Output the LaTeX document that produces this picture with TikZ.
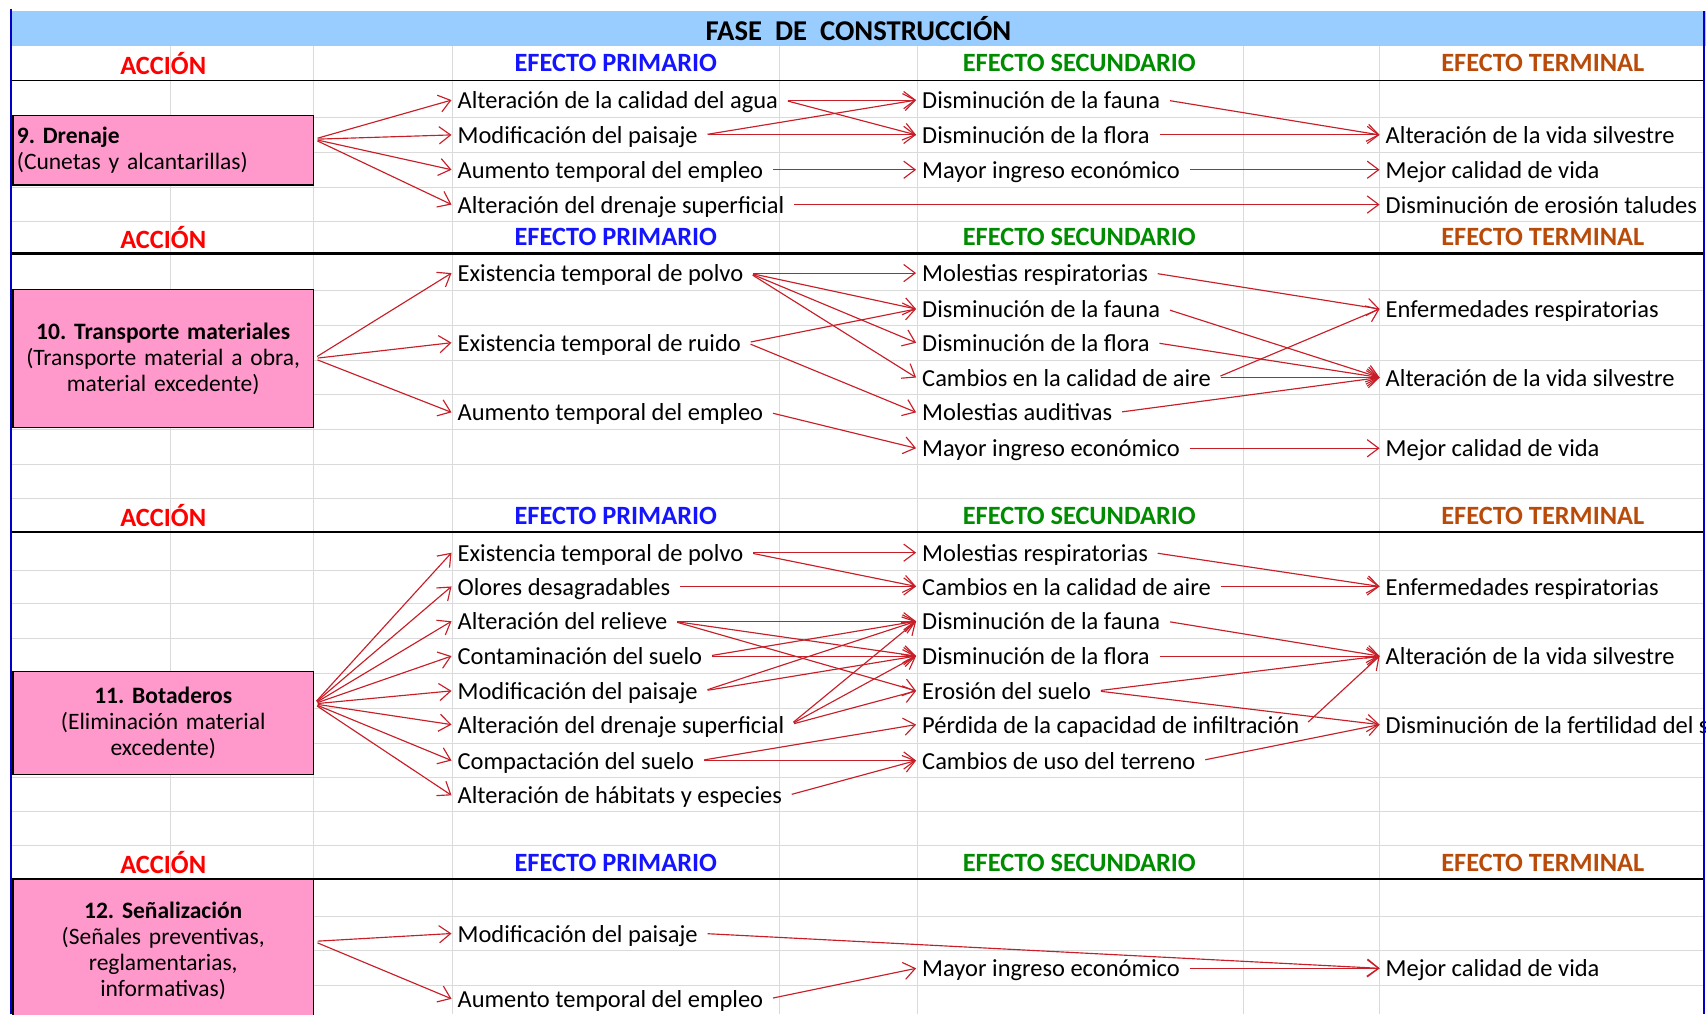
\documentclass[tikz,border=0pt]{standalone}
\usepackage{fontspec}
\setmainfont{Carlito}
\usetikzlibrary{arrows.meta,calc}
\frenchspacing

\definecolor{bandblue}{RGB}{153,204,255}
\definecolor{boxpink}{RGB}{255,153,204}
\definecolor{arrred}{RGB}{200,30,40}
\definecolor{gridgray}{RGB}{218,218,218}
\definecolor{hdrred}{RGB}{255,0,0}
\definecolor{hdrblue}{RGB}{20,20,255}
\definecolor{hdrgreen}{RGB}{0,140,0}
\definecolor{hdrbrown}{RGB}{185,75,10}
\definecolor{edgeblue}{RGB}{0,0,200}

\tikzset{
  efecto/.style={anchor=west, inner xsep=3pt, inner ysep=0pt, text height=11pt, text depth=2pt, font=\fontsize{12.8}{14}\selectfont},
  accion/.style={draw=black, line width=0.6pt, fill=boxpink, inner xsep=2pt, text width=5.38cm, align=center, font=\fontsize{12.3}{13.6}\selectfont},
  flecha/.style={draw=arrred, line width=0.6pt, -{Straight Barb[length=6pt,width=9pt]}, shorten <=2pt},
  cabecera/.style={font=\fontsize{13.8}{16}\selectfont\bfseries},
}

\def\cabeceras(#1)#2{%
  \node[cabecera, text=hdrred] (acc#2) at (150,#1) {ACCIÓN};
  \node[cabecera, text=hdrblue] (pri#2) at (566,#1) {EFECTO PRIMARIO};
  \node[cabecera, text=hdrgreen] (sec#2) at (992,#1) {EFECTO SECUNDARIO};
  \node[cabecera, text=hdrbrown] (ter#2) at (1418,#1) {EFECTO TERMINAL};
}

\begin{document}
\begin{tikzpicture}[x=0.02cm, y=-0.02cm]
			%%%%% START %%%%%
			\useasboundingbox (0,0) rectangle (1568,932);
			\clip (0,0) rectangle (1568,932);
			
			% grid of the sheet
			\draw[gridgray, line width=0.5pt] (157,42) -- (157,932) (288,42) -- (288,932) (416,42) -- (416,932)
			  (716,42) -- (716,932) (843,42) -- (843,932) (1143,42) -- (1143,932) (1268,42) -- (1268,932);
			\draw[gridgray, line width=0.5pt] (10,108) -- (1566,108) (10,140) -- (1566,140) (10,172) -- (1566,172) (10,204) -- (1566,204)
			  (10,267) -- (1566,267) (10,299) -- (1566,299) (10,331) -- (1566,331) (10,363) -- (1566,363)
			  (10,395) -- (1566,395) (10,427) -- (1566,427) (10,458) -- (1566,458);
			\draw[gridgray, line width=0.5pt] (10,524) -- (1566,524) (10,555) -- (1566,555) (10,587) -- (1566,587) (10,619) -- (1566,619)
			  (10,651) -- (1566,651) (10,683) -- (1566,683) (10,715) -- (1566,715) (10,746) -- (1566,746)
			  (10,777) -- (1566,777) (10,842) -- (1566,842) (10,874) -- (1566,874) (10,906) -- (1566,906);
			
			\fill[bandblue] (10,10) rectangle (1568,42);
			\node[font=\fontsize{15}{18}\selectfont\bfseries] (fase) at (789,26) {FASE~~DE~~CONSTRUCCIÓN};
			
			\draw[line width=0.9pt] (10,74) -- (1566,74);
			\draw[line width=1.6pt] (10,233) -- (1566,233);
			\draw[line width=0.9pt] (10,489) -- (1566,489);
			\draw[line width=0.9pt] (10,808) -- (1566,808);
			
			\cabeceras(58){9}
			\cabeceras(218){10}
			\cabeceras(474){11}
			\cabeceras(793){12}
			
			%%%%% 9. Drenaje %%%%%
			\node[accion, align=left, minimum height=1.28cm] (b9) at (150,138) {\textbf{9. Drenaje}\\(Cunetas y alcantarillas)};
			
			\node[efecto] (p9agua) at (415,92) {Alteración de la calidad del agua};
			\node[efecto] (p9paisaje) at (415,124) {Modificación del paisaje};
			\node[efecto] (p9empleo) at (415,156) {Aumento temporal del empleo};
			\node[efecto] (p9drenaje) at (415,188) {Alteración del drenaje superficial};
			
			\node[efecto] (s9fauna) at (842,92) {Disminución de la fauna};
			\node[efecto] (s9flora) at (842,124) {Disminución de la flora};
			\node[efecto] (s9ingreso) at (842,156) {Mayor ingreso económico};
			
			\node[efecto] (t9vida) at (1268,124) {Alteración de la vida silvestre};
			\node[efecto] (t9calidad) at (1268,156) {Mejor calidad de vida};
			\node[efecto] (t9taludes) at (1268,188) {Disminución de erosión taludes};
			
			\draw[flecha] ([yshift=5.7pt]b9.east) -- (p9agua.west);
			\draw[flecha] ([yshift=5.7pt]b9.east) -- (p9paisaje.west);
			\draw[flecha] ([yshift=5.7pt]b9.east) -- (p9empleo.west);
			\draw[flecha] ([yshift=5.7pt]b9.east) -- (p9drenaje.west);
			\draw[flecha] (p9agua.east) -- (s9fauna.west);
			\draw[flecha] (p9agua.east) -- (s9flora.west);
			\draw[flecha] (p9paisaje.east) -- (s9fauna.west);
			\draw[flecha] (p9paisaje.east) -- (s9flora.west);
			\draw[flecha] (p9empleo.east) -- (s9ingreso.west);
			\draw[flecha] (p9drenaje.east) -- (t9taludes.west);
			\draw[flecha] (s9fauna.east) -- (t9vida.west);
			\draw[flecha] (s9flora.east) -- (t9vida.west);
			\draw[flecha] (s9ingreso.east) -- (t9calidad.west);
			
			%%%%% 10. Transporte materiales %%%%%
			\node[accion, minimum height=2.54cm] (b10) at (150,329.5) {\textbf{10. Transporte materiales}\\(Transporte material a obra,\\material excedente)};
			
			\node[efecto] (p10polvo) at (415,251) {Existencia temporal de polvo};
			\node[efecto] (p10ruido) at (415,315) {Existencia temporal de ruido};
			\node[efecto] (p10empleo) at (415,379) {Aumento temporal del empleo};
			
			\node[efecto] (s10resp) at (842,251) {Molestias respiratorias};
			\node[efecto] (s10fauna) at (842,284) {Disminución de la fauna};
			\node[efecto] (s10flora) at (842,315) {Disminución de la flora};
			\node[efecto] (s10aire) at (842,347) {Cambios en la calidad de aire};
			\node[efecto] (s10audit) at (842,379) {Molestias auditivas};
			\node[efecto] (s10ingreso) at (842,412) {Mayor ingreso económico};
			
			\node[efecto] (t10enf) at (1268,284) {Enfermedades respiratorias};
			\node[efecto] (t10vida) at (1268,347) {Alteración de la vida silvestre};
			\node[efecto] (t10calidad) at (1268,412) {Mejor calidad de vida};
			
			\draw[flecha] (b10.east) -- (p10polvo.west);
			\draw[flecha] (b10.east) -- (p10ruido.west);
			\draw[flecha] (b10.east) -- (p10empleo.west);
			\draw[flecha] (p10polvo.east) -- (s10resp.west);
			\draw[flecha] (p10polvo.east) -- (s10fauna.west);
			\draw[flecha] (p10polvo.east) -- (s10flora.west);
			\draw[flecha] (p10polvo.east) -- (s10aire.west);
			\draw[flecha] (p10ruido.east) -- (s10fauna.west);
			\draw[flecha] (p10ruido.east) -- (s10audit.west);
			\draw[flecha] (p10empleo.east) -- (s10ingreso.west);
			\draw[flecha] (s10resp.east) -- (t10enf.west);
			\draw[flecha] (s10fauna.east) -- (t10vida.west);
			\draw[flecha] (s10flora.east) -- (t10vida.west);
			\draw[flecha] (s10aire.east) -- (t10vida.west);
			\draw[flecha] (s10aire.east) -- (t10enf.west);
			\draw[flecha] (s10audit.east) -- (t10vida.west);
			\draw[flecha] (s10ingreso.east) -- (t10calidad.west);
			
			%%%%% 11. Botaderos %%%%%
			\node[accion, minimum height=1.9cm] (b11) at (150,664.5) {\textbf{11. Botaderos}\\(Eliminación material\\excedente)};
			
			\node[efecto] (p11polvo) at (415,508) {Existencia temporal de polvo};
			\node[efecto] (p11olores) at (415,539) {Olores desagradables};
			\node[efecto] (p11relieve) at (415,571) {Alteración del relieve};
			\node[efecto] (p11suelo) at (415,603) {Contaminación del suelo};
			\node[efecto] (p11paisaje) at (415,635) {Modificación del paisaje};
			\node[efecto] (p11drenaje) at (415,666) {Alteración del drenaje superficial};
			\node[efecto] (p11compac) at (415,699) {Compactación del suelo};
			\node[efecto] (p11habitat) at (415,731) {Alteración de hábitats y especies};
			
			\node[efecto] (s11resp) at (842,508) {Molestias respiratorias};
			\node[efecto] (s11aire) at (842,539) {Cambios en la calidad de aire};
			\node[efecto] (s11fauna) at (842,571) {Disminución de la fauna};
			\node[efecto] (s11flora) at (842,603) {Disminución de la flora};
			\node[efecto] (s11erosion) at (842,635) {Erosión del suelo};
			\node[efecto] (s11infil) at (842,666) {Pérdida de la capacidad de infiltración};
			\node[efecto] (s11uso) at (842,699) {Cambios de uso del terreno};
			
			\node[efecto] (t11enf) at (1268,539) {Enfermedades respiratorias};
			\node[efecto] (t11vida) at (1268,603) {Alteración de la vida silvestre};
			\node[efecto] (t11fert) at (1268,666) {Disminución de la fertilidad del suelo};
			
			\draw[flecha] ([yshift=10pt]b11.east) -- (p11polvo.west);
			\draw[flecha] ([yshift=10pt]b11.east) -- (p11olores.west);
			\draw[flecha] ([yshift=10pt]b11.east) -- (p11relieve.west);
			\draw[flecha] ([yshift=10pt]b11.east) -- (p11suelo.west);
			\draw[flecha] ([yshift=10pt]b11.east) -- (p11paisaje.west);
			\draw[flecha] ([yshift=10pt]b11.east) -- (p11drenaje.west);
			\draw[flecha] ([yshift=10pt]b11.east) -- (p11compac.west);
			\draw[flecha] ([yshift=10pt]b11.east) -- (p11habitat.west);
			\draw[flecha] (p11polvo.east) -- (s11resp.west);
			\draw[flecha] (p11polvo.east) -- (s11aire.west);
			\draw[flecha] (p11olores.east) -- (s11aire.west);
			\draw[flecha] (p11relieve.east) -- (s11fauna.west);
			\draw[flecha] (p11relieve.east) -- (s11flora.west);
			\draw[flecha] (p11relieve.east) -- (s11erosion.west);
			\draw[flecha] (p11suelo.east) -- (s11fauna.west);
			\draw[flecha] (p11suelo.east) -- (s11flora.west);
			\draw[flecha] (p11paisaje.east) -- (s11fauna.west);
			\draw[flecha] (p11paisaje.east) -- (s11flora.west);
			\draw[flecha] (p11drenaje.east) -- (s11fauna.west);
			\draw[flecha] (p11drenaje.east) -- (s11flora.west);
			\draw[flecha] (p11drenaje.east) -- (s11erosion.west);
			\draw[flecha] (p11compac.east) -- (s11infil.west);
			\draw[flecha] (p11compac.east) -- (s11uso.west);
			\draw[flecha] (p11habitat.east) -- (s11uso.west);
			\draw[flecha] (s11resp.east) -- (t11enf.west);
			\draw[flecha] (s11aire.east) -- (t11enf.west);
			\draw[flecha] (s11fauna.east) -- (t11vida.west);
			\draw[flecha] (s11flora.east) -- (t11vida.west);
			\draw[flecha] (s11erosion.east) -- (t11vida.west);
			\draw[flecha] (s11erosion.east) -- (t11fert.west);
			\draw[flecha] (s11infil.east) -- (t11vida.west);
			\draw[flecha] (s11uso.east) -- (t11fert.west);
			
			%%%%% 12. Senalizacion %%%%%
			\node[accion, minimum height=2.64cm] (b12) at (150,874) {\textbf{12. Señalización}\\(Señales preventivas,\\reglamentarias,\\informativas)};
			
			\node[efecto] (p12paisaje) at (415,858) {Modificación del paisaje};
			\node[efecto] (p12empleo) at (415,918) {Aumento temporal del empleo};
			\node[efecto] (s12ingreso) at (842,890) {Mayor ingreso económico};
			\node[efecto] (t12calidad) at (1268,890) {Mejor calidad de vida};
			
			\draw[flecha] ([yshift=5pt]b12.east) -- (p12paisaje.west);
			\draw[flecha] ([yshift=5pt]b12.east) -- (p12empleo.west);
			\draw[flecha] (p12paisaje.east) -- (t12calidad.west);
			\draw[flecha] (p12empleo.east) -- (s12ingreso.west);
			\draw[flecha] (s12ingreso.east) -- (t12calidad.west);
			
			% sheet borders
			\draw[edgeblue, line width=1.2pt] (10,8) -- (10,932);
			\draw[edgeblue, line width=1.2pt] (1566,10) -- (1566,932);
			%%%%% END %%%%%
\end{tikzpicture}
\end{document}
